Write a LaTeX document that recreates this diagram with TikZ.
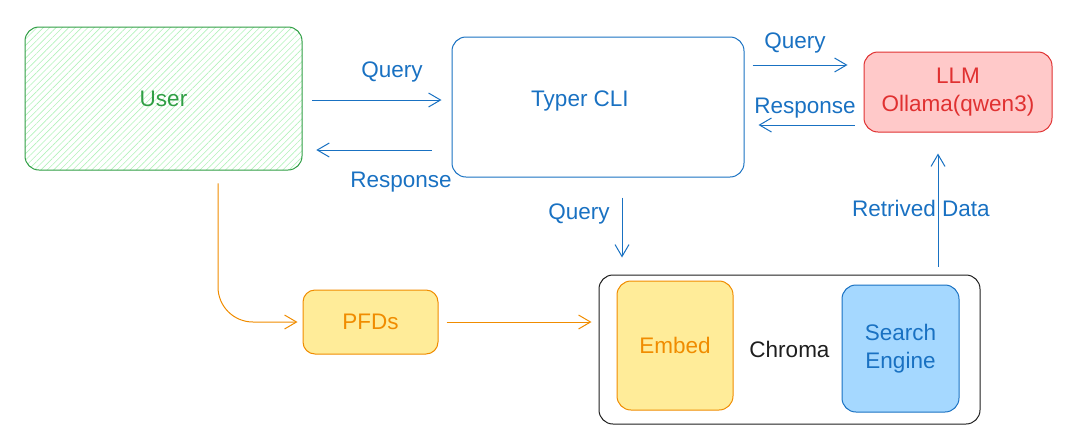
\documentclass[tikz,border=0pt]{standalone}
\usepackage{fontspec}
\setmainfont{Liberation Sans}
\usepackage{xcolor}
\usetikzlibrary{arrows.meta, patterns.meta}

\definecolor{usergreen}{HTML}{2F9E44}
\definecolor{hatchgreen}{HTML}{B2F2BB}
\definecolor{flowblue}{HTML}{1971C2}
\definecolor{llmred}{HTML}{E03131}
\definecolor{llmfill}{HTML}{FFC9C9}
\definecolor{pdforange}{HTML}{F08C00}
\definecolor{pdffill}{HTML}{FFEC99}
\definecolor{searchfill}{HTML}{A5D8FF}
\definecolor{chromablack}{HTML}{1E1E1E}

\tikzset{
  box/.style={draw, rounded corners=14pt, line width=1pt, align=center,
    font=\fontsize{22.5}{28}\selectfont, inner sep=0pt},
  lbl/.style={font=\fontsize{22.5}{28}\selectfont, text=flowblue},
  flow/.style={draw=flowblue, line width=1pt, -{Straight Barb[length=12pt,width=14pt]}},
  feed/.style={flow, draw=pdforange},
}

\begin{document}
\begin{tikzpicture}[x=1pt, y=-1pt]
    \useasboundingbox (0,0) rectangle (1077,440);
    % Boxes
    \node[box, draw=usergreen, text=usergreen, minimum width=277pt, minimum height=143pt,
      pattern={Lines[angle=45, distance=4.5pt, line width=0.6pt]}, pattern color=hatchgreen]
      (user) at (163.5,98.5) {User};
    \node[box, draw=flowblue, text=flowblue, minimum width=292pt, minimum height=140pt]
      (typer) at (598,107) {};
    \node[lbl] (typertext) at (580,101) {Typer CLI};
    \node[box, draw=llmred, fill=llmfill, text=llmred, minimum width=188pt, minimum height=80pt]
      (llm) at (958,92) {LLM\\Ollama(qwen3)};
    \node[box, draw=pdforange, fill=pdffill, text=pdforange, rounded corners=12pt,
      minimum width=135pt, minimum height=64pt] (pfds) at (370.5,322) {PFDs};
    \node[box, draw=chromablack, text=chromablack, minimum width=381pt, minimum height=149pt]
      (chroma) at (789.5,349.5) {Chroma};
    \node[box, draw=pdforange, fill=pdffill, text=pdforange, minimum width=116pt, minimum height=129pt]
      (embed) at (675,345.5) {Embed};
    \node[box, draw=flowblue, fill=searchfill, text=flowblue, minimum width=117pt, minimum height=127pt]
      (search) at (900.5,348.5) {Search\\Engine};
    % Labels
    \node[lbl] (q1) at (392,72) {Query};
    \node[lbl] (r1) at (401,182) {Response};
    \node[lbl] (q2) at (795,43) {Query};
    \node[lbl] (r2) at (805,108) {Response};
    \node[lbl] (q3) at (579,214) {Query};
    \node[lbl] (rd) at (921,208) {Retrived Data};
    % Arrows
    \draw[flow, shorten <=10pt, shorten >=10pt] (user.east |- 0,100) -- (typer.west |- 0,100);
    \draw[flow, shorten <=20pt, shorten >=14pt] (typer.west |- 0,150) -- (user.east |- 0,150);
    \draw[flow, shorten <=8pt, shorten >=16pt] (typer.east |- 0,65) -- (llm.west |- 0,65);
    \draw[flow, shorten <=9pt, shorten >=14pt] (llm.west |- 0,125) -- (typer.east |- 0,125);
    \draw[flow, shorten <=20pt, shorten >=17pt] (typer.south -| 622,0) -- (chroma.north -| 622,0);
    \draw[flow, shorten <=8pt, shorten >=21pt] (chroma.north -| 938,0) -- (llm.south -| 938,0);
    \draw[feed, rounded corners=35pt, shorten <=13pt, shorten >=5pt] (user.south -| 218,0) |- (pfds.west);
    \draw[feed, shorten <=8pt, shorten >=7pt] (pfds.east) -- (chroma.west |- pfds.east);
\end{tikzpicture}
\end{document}
